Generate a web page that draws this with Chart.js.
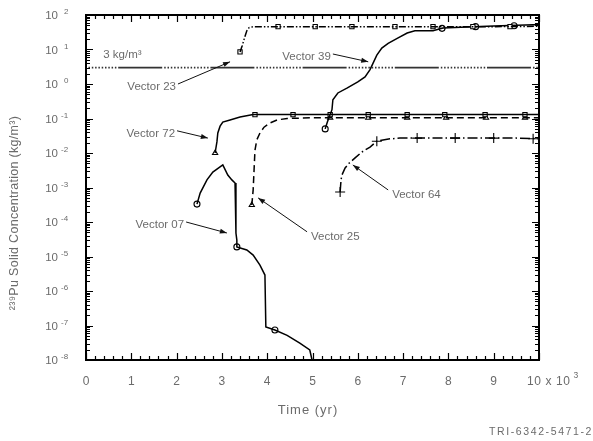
<!DOCTYPE html>
<html><head><meta charset="utf-8">
<script src="https://cdn.jsdelivr.net/npm/chart.js@4/dist/chart.umd.min.js"></script>
<style>html,body{margin:0;padding:0;background:#fff}#wrap{width:593px;height:441px;position:relative}</style>
</head><body><div id="wrap"><canvas id="c" width="593" height="441"></canvas></div>
<script>
// ---- axes / text ----
const xTicks = [0,1,2,3,4,5,6,7,8,9];
const xTickLabels = ['0','1','2','3','4','5','6','7','8','9'];
const xEndLabel = '10 x 10';
const xEndExp = '3';
const yTickExps = [2,1,0,-1,-2,-3,-4,-5,-6,-7,-8];
const xTitle = 'Time (yr)';
const yTitle = '²³⁹Pu Solid Concentration (kg/m³)';
const figId = 'TRI-6342-5471-2';

// ---- reference level ----
const refLevel = 3;
const refLabel = '3 kg/m³';
const refLabelX = 0.38, refLabelY = 6.9;

// ---- Vector 23 ----
const v23X = [3.40,3.45,3.50,3.55,3.60,3.70,4.0,5.0,6.0,7.0,8.0,9.0,10.0];
const v23Y = [8.5,13,22,35,43,46,46,46,46,46,46,46,47];
const v23MarkX = [3.40,4.24,5.06,5.87,6.82,7.66,8.54,9.36];
const v23MarkY = [8.5,46,46,46,46,46,46,46];

// ---- Vector 39 ----
const v39X = [5.28,5.33,5.39,5.43,5.45,5.56,5.76,6.0,6.16,6.27,6.34,6.42,6.53,6.67,6.87,7.09,7.26,7.66,7.88,8.41,9.0,9.87,10.0];
const v39Y = [0.05,0.08,0.13,0.18,0.35,0.55,0.76,1.15,1.6,2.6,4.1,6.9,11,15,21,30,35,35,42,45,48,52,53];
const v39MarkX = [5.28,7.86,8.60,9.45];
const v39MarkY = [0.05,41,46,49];

// ---- Vector 72 ----
const v72X = [2.85,2.89,2.91,2.96,3.02,3.18,3.40,3.69,4.5,6.0,8.0,10.0];
const v72Y = [0.01,0.021,0.038,0.06,0.079,0.091,0.11,0.13,0.13,0.13,0.13,0.13];
const v72MarkX = [2.85,3.73,4.57,5.39,6.23,7.09,7.92,8.81,9.69];
const v72MarkY = [0.01,0.13,0.13,0.13,0.13,0.13,0.13,0.13,0.13];

// ---- Vector 25 ----
const v25X = [3.66,3.69,3.71,3.73,3.77,3.84,3.93,4.06,4.22,4.44,5.0,6.0,7.0,8.0,9.0,10.0];
const v25Y = [3.1e-4,8.5e-4,3.2e-3,0.012,0.024,0.038,0.056,0.074,0.091,0.10,0.105,0.105,0.105,0.105,0.105,0.105];
const v25MarkX = [3.66,5.39,6.23,7.09,7.95,8.83,9.69];
const v25MarkY = [3.1e-4,0.105,0.105,0.105,0.105,0.105,0.105];

// ---- Vector 07 ----
const v07X = [2.45,2.52,2.67,2.80,3.02,3.13,3.22,3.29,3.31,3.31,3.33,3.33,3.55,3.69,3.84,3.95,3.97,4.17,4.44,4.72,4.94,4.99];
const v07Y = [3.3e-4,6.9e-4,1.66e-3,2.8e-3,4.5e-3,2.3e-3,1.66e-3,1.35e-3,4.4e-4,4.8e-5,3.0e-5,1.9e-5,1.55e-5,1.1e-5,5.6e-6,2.9e-6,9.1e-8,7.4e-8,5.2e-8,3.1e-8,1.95e-8,1.0e-8];
const v07MarkX = [2.45,3.33,4.17];
const v07MarkY = [3.3e-4,1.9e-5,7.4e-8];

// ---- Vector 64 ----
const v64X = [5.61,5.63,5.65,5.72,5.81,5.94,6.09,6.27,6.42,6.71,6.93,7.5,8.5,9.5,10.0];
const v64Y = [7.4e-4,1.66e-3,2.3e-3,3.7e-3,5.1e-3,7.2e-3,0.0107,0.0148,0.022,0.0257,0.027,0.027,0.027,0.027,0.026];
const v64MarkX = [5.61,6.42,7.31,8.15,9.0,9.87];
const v64MarkY = [7.4e-4,0.022,0.027,0.027,0.027,0.026];

// ---- curve labels with leader lines (label end -> curve) ----
const labelNames = ['Vector 23','Vector 39','Vector 72','Vector 07','Vector 25','Vector 64'];
const leaderFromX = [2.03,5.45,2.01,2.21,4.88,6.67];
const leaderFromY = [1.0,7.4,0.044,1.0e-4,5.2e-5,8.5e-4];
const leaderToX   = [3.18,6.23,2.69,3.11,3.80,5.89];
const leaderToY   = [4.4,4.4,0.027,4.8e-5,5.0e-4,4.5e-3];
const labelSide   = ['left','left','left','left','right','right'];

function pts(xs, ys){ return xs.map((x,i)=>({x:x, y:ys[i]})); }

const black = '#000';
const txt = '#6b6b6b';

function lineDs(xs, ys, dash){
  return {type:'line', data:pts(xs,ys), borderColor:black, borderWidth:1.5, borderDash:dash,
          pointRadius:0, fill:false, tension:0};
}
function markDs(xs, ys, style, r){
  return {type:'line', data:pts(xs,ys), showLine:false, pointStyle:style, pointRadius:r||3,
          pointBorderWidth:1.1, pointBackgroundColor:'#fff', pointBorderColor:black};
}

const dotted = [];
for (let k=0;k<14;k++){ dotted.push(1.5,1.8); }

const datasets = [
  {type:'line', data:[{x:0,y:refLevel},{x:10,y:refLevel}], borderColor:'#333', borderWidth:1.7,
   borderDash:[44,2].concat(dotted), borderDashOffset:60, pointRadius:0},
  lineDs(v23X, v23Y, [7,2,1.5,2,1.5,2]),
  markDs(v23MarkX, v23MarkY, 'rect', 3),
  lineDs(v39X, v39Y, []),
  markDs(v39MarkX, v39MarkY, 'circle', 3),
  lineDs(v72X, v72Y, []),
  Object.assign(markDs(v72MarkX, v72MarkY, 'rect', 3), {pointStyle:(c)=>c.dataIndex===0?'triangle':'rect'}),
  lineDs(v25X, v25Y, [7,4]),
  markDs(v25MarkX, v25MarkY, 'triangle', 3),
  lineDs(v07X, v07Y, []),
  markDs(v07MarkX, v07MarkY, 'circle', 3),
  lineDs(v64X, v64Y, [10,3,1.5,3]),
  markDs(v64MarkX, v64MarkY, 'cross', 5),
];

const FONT = '"Liberation Sans", Arial, sans-serif';

const decor = {
  id:'decor',
  afterDatasetsDraw(chart){
    const ctx = chart.ctx, xs = chart.scales.x, ys = chart.scales.y;
    ctx.save();
    ctx.strokeStyle = '#111'; ctx.fillStyle = '#111'; ctx.lineWidth = 1;
    ctx.font = '11.5px ' + FONT;
    for (let i=0;i<labelNames.length;i++){
      const x1 = xs.getPixelForValue(leaderFromX[i]), y1 = ys.getPixelForValue(leaderFromY[i]);
      const x2 = xs.getPixelForValue(leaderToX[i]), y2 = ys.getPixelForValue(leaderToY[i]);
      ctx.beginPath(); ctx.moveTo(x1,y1); ctx.lineTo(x2,y2); ctx.stroke();
      const a = Math.atan2(y2-y1, x2-x1);
      ctx.beginPath();
      ctx.moveTo(x2,y2);
      ctx.lineTo(x2-7*Math.cos(a)+2.5*Math.sin(a), y2-7*Math.sin(a)-2.5*Math.cos(a));
      ctx.lineTo(x2-7*Math.cos(a)-2.5*Math.sin(a), y2-7*Math.sin(a)+2.5*Math.cos(a));
      ctx.closePath(); ctx.fill();
      ctx.save();
      ctx.fillStyle = txt; ctx.textBaseline = 'middle';
      if (labelSide[i]==='left'){ ctx.textAlign='right'; ctx.fillText(labelNames[i], x1-2, y1+3); }
      else { ctx.textAlign='left'; ctx.fillText(labelNames[i], x1+4, y1+5); }
      ctx.restore();
    }
    ctx.fillStyle = txt; ctx.textAlign='left'; ctx.textBaseline='middle';
    ctx.fillText(refLabel, xs.getPixelForValue(refLabelX), ys.getPixelForValue(refLabelY));
    ctx.restore();
  },
  afterDraw(chart){
    const ctx = chart.ctx, a = chart.chartArea, xs = chart.scales.x, ys = chart.scales.y;
    ctx.save();
    ctx.strokeStyle = black; ctx.lineWidth = 2;
    ctx.strokeRect(a.left, a.top, a.right-a.left, a.bottom-a.top);
    ctx.lineWidth = 1.2;
    ctx.beginPath();
    for (let v=0; v<=10.0001; v+=0.2){
      const px = Math.round(xs.getPixelForValue(v))+0.5;
      const major = Math.abs(v-Math.round(v))<1e-6;
      const L = major?7:4;
      ctx.moveTo(px,a.bottom); ctx.lineTo(px,a.bottom-L);
      ctx.moveTo(px,a.top); ctx.lineTo(px,a.top+L);
    }
    for (let e=-8;e<=2;e++){
      for (let m=1;m<=9;m++){
        if (e===2 && m>1) break;
        const py = Math.round(ys.getPixelForValue(m*Math.pow(10,e)))+0.5;
        const L = m===1?7:4;
        ctx.moveTo(a.left,py); ctx.lineTo(a.left+L,py);
        ctx.moveTo(a.right,py); ctx.lineTo(a.right-L,py);
      }
    }
    ctx.stroke();
    ctx.fillStyle = txt;
    ctx.font = '12px ' + FONT; ctx.textAlign='center'; ctx.textBaseline='middle';
    xTicks.forEach((v,i)=>{ ctx.fillText(xTickLabels[i], xs.getPixelForValue(v), a.bottom+22); });
    const xe = xs.getPixelForValue(10);
    ctx.textAlign='left';
    try { ctx.letterSpacing = '0.6px'; } catch(e){}
    ctx.fillText(xEndLabel, xe-12, a.bottom+22);
    const w = ctx.measureText(xEndLabel).width;
    try { ctx.letterSpacing = '0px'; } catch(e){}
    ctx.font = '8.5px ' + FONT;
    ctx.fillText(xEndExp, xe-12+w+3, a.bottom+16);
    yTickExps.forEach(e=>{
      const py = ys.getPixelForValue(Math.pow(10,e));
      ctx.font = '11.5px ' + FONT; ctx.textAlign='right';
      ctx.fillText('10', a.left-28, py+1);
      ctx.font = '8px ' + FONT; ctx.textAlign='left';
      ctx.fillText(String(e), e<0?a.left-25:a.left-22, py-3);
    });
    ctx.font = '13px ' + FONT; ctx.textAlign='center';
    try { ctx.letterSpacing = '1px'; } catch(e){}
    ctx.fillText(xTitle, 308, a.bottom+50);
    try { ctx.letterSpacing = '0.3px'; } catch(e){}
    ctx.save();
    ctx.translate(15, 213); ctx.rotate(-Math.PI/2);
    ctx.font = '12.5px ' + FONT;
    ctx.fillText(yTitle, 0, 0);
    ctx.restore();
    ctx.font = '10.5px ' + FONT; ctx.textAlign='right';
    try { ctx.letterSpacing = '1.6px'; } catch(e){}
    ctx.fillText(figId, 593, 432);
    ctx.restore();
  }
};

new Chart(document.getElementById('c'), {
  type:'line',
  data:{datasets},
  options:{
    responsive:false, animation:false, devicePixelRatio:1,
    layout:{padding:{left:86, top:15, right:54, bottom:81}},
    plugins:{legend:{display:false}, tooltip:{enabled:false}},
    scales:{
      x:{type:'linear', min:0, max:10, display:false},
      y:{type:'logarithmic', min:1e-8, max:1e2, display:false}
    }
  },
  plugins:[decor]
});
</script>
</body></html>
